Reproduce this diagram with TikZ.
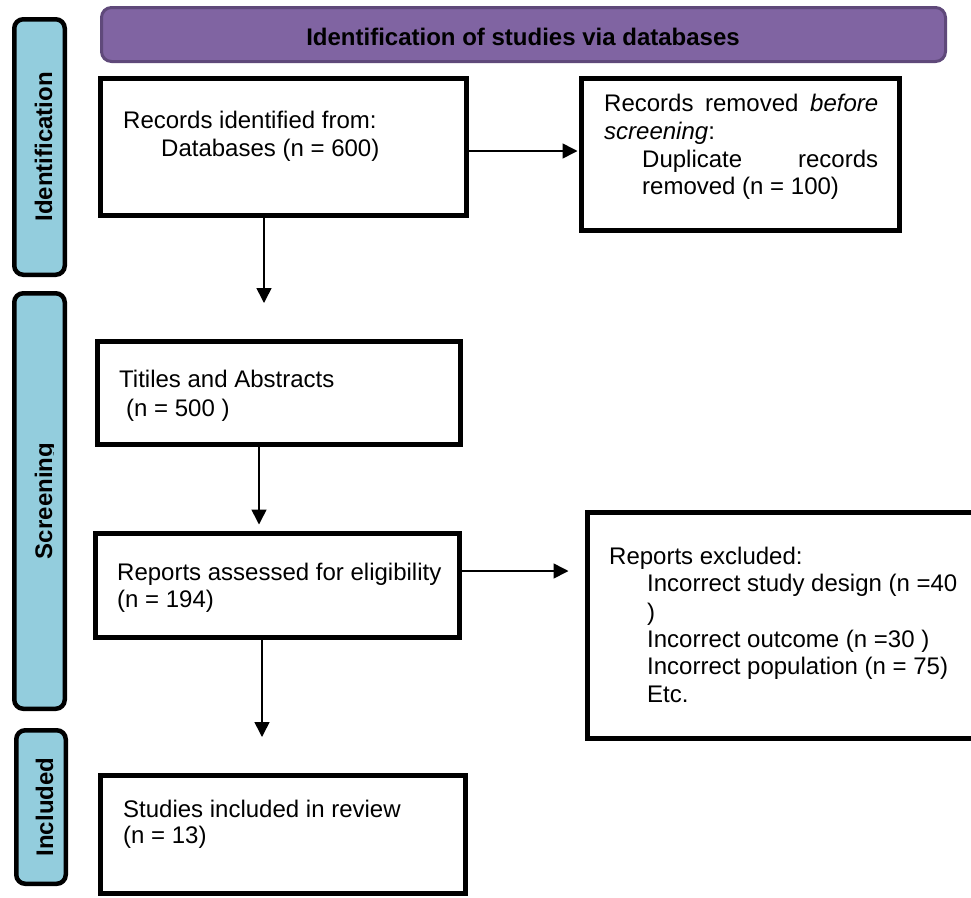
\documentclass[tikz,border=0pt]{standalone}
\usepackage{fontspec}
\setmainfont{Liberation Sans}
\usetikzlibrary{arrows.meta}
\definecolor{barblue}{HTML}{93CDDD}
\definecolor{hdrfill}{HTML}{8064A2}
\definecolor{hdrline}{HTML}{5F497A}
\begin{document}
\begin{tikzpicture}[x=1pt,y=-1pt,
  box/.style={draw=black, line width=5pt, fill=white, rectangle, inner sep=0pt},
  bar/.style={draw=black, line width=4.5pt, fill=barblue, rounded corners=9pt, rectangle, inner sep=0pt},
  txt/.style={anchor=base west, inner sep=0pt, font=\fontsize{24}{28}\selectfont},
  bartxt/.style={rotate=90, anchor=base, inner sep=0pt, font=\bfseries\fontsize{24}{28}\selectfont},
  arr/.style={line width=1.6pt, -{Triangle[length=15pt,width=15pt]}}]
\useasboundingbox (0,0) rectangle (971,897);

% header
\node[draw=hdrline, line width=3pt, fill=hdrfill, rounded corners=10pt, rectangle, inner sep=0pt,
      minimum width=844pt, minimum height=54pt] (hdr) at (523.5,34.5) {};
\node[anchor=base, inner sep=0pt, font=\bfseries\fontsize{24}{28}\selectfont] (ht) at (523,45) {Identification of studies via databases};

% side bars
\node[bar, minimum width=50.5pt, minimum height=255.5pt] (bi) at (39.5,147) {};
\node[bar, minimum width=50.5pt, minimum height=415.5pt] (bs) at (39.5,501) {};
\node[bar, minimum width=49.5pt, minimum height=153.5pt] (bn) at (41,807) {};
\node[bartxt] (li) at (52,147) {Identification};
\begin{scope}
\clip (20,300) rectangle (53.5,700);
\node[bartxt] (ls) at (52,501) {Screening};
\end{scope}
\node[bartxt] (ln) at (53,807) {Included};

% boxes
\node[box, minimum width=366pt, minimum height=137pt] (a) at (283.5,147) {};
\node[box, minimum width=318pt, minimum height=152pt] (b) at (740.5,154.5) {};
\node[box, minimum width=363pt, minimum height=103pt] (c) at (279,393) {};
\node[box, minimum width=364pt, minimum height=104pt] (d) at (277.5,585.5) {};
\node[box, minimum width=410pt, minimum height=226pt] (e) at (792.5,625.5) {};
\node[box, minimum width=365pt, minimum height=118pt] (f) at (283,834.5) {};

% texts
\node[txt] (ta1) at (123,128) {Records identified from:};
\node[txt] (ta2) at (161,156) {Databases (n = 600)};
\node[txt] (tb1) at (604,111) {\makebox[274pt][s]{Records removed \textit{before}}};
\node[txt] (tb2) at (604,139) {\textit{screening}:};
\node[txt] (tb3) at (642,167) {\makebox[236pt][s]{Duplicate records}};
\node[txt] (tb4) at (642,194) {removed (n = 100)};
\node[txt] (tc1) at (119,387) {Titiles and Abstracts};
\node[txt] (tc2) at (126,416) {(n = 500 )};
\node[txt] (td1) at (117,580) {Reports assessed for eligibility};
\node[txt] (td2) at (117,607) {(n = 194)};
\node[txt] (te1) at (609,564) {Reports excluded:};
\node[txt] (te2) at (647,591) {Incorrect study design (n =40};
\node[txt] (te3) at (647,620) {)};
\node[txt] (te4) at (647,647) {Incorrect outcome (n =30 )};
\node[txt] (te5) at (647,674) {Incorrect population (n = 75)};
\node[txt] (te6) at (647,702) {Etc.};
\node[txt] (tf1) at (123,817) {Studies included in review};
\node[txt] (tf2) at (123,843) {(n = 13)};

% connectors
\coordinate (ya) at (0,151);
\coordinate (ax) at (264,303);
\coordinate (cx) at (259,0);
\coordinate (yd) at (0,571);
\coordinate (dx) at (262,737);
\draw[arr, shorten >=1.5pt] (a.east |- ya) -- (b.west |- ya);
\draw[arr] (a.south -| ax) -- (ax);
\draw[arr, shorten >=6.5pt] (c.south -| cx) -- (d.north -| cx);
\draw[arr, shorten >=16.5pt] (d.east |- yd) -- (e.west |- yd);
\draw[arr] (d.south -| dx) -- (dx);
\end{tikzpicture}
\end{document}
